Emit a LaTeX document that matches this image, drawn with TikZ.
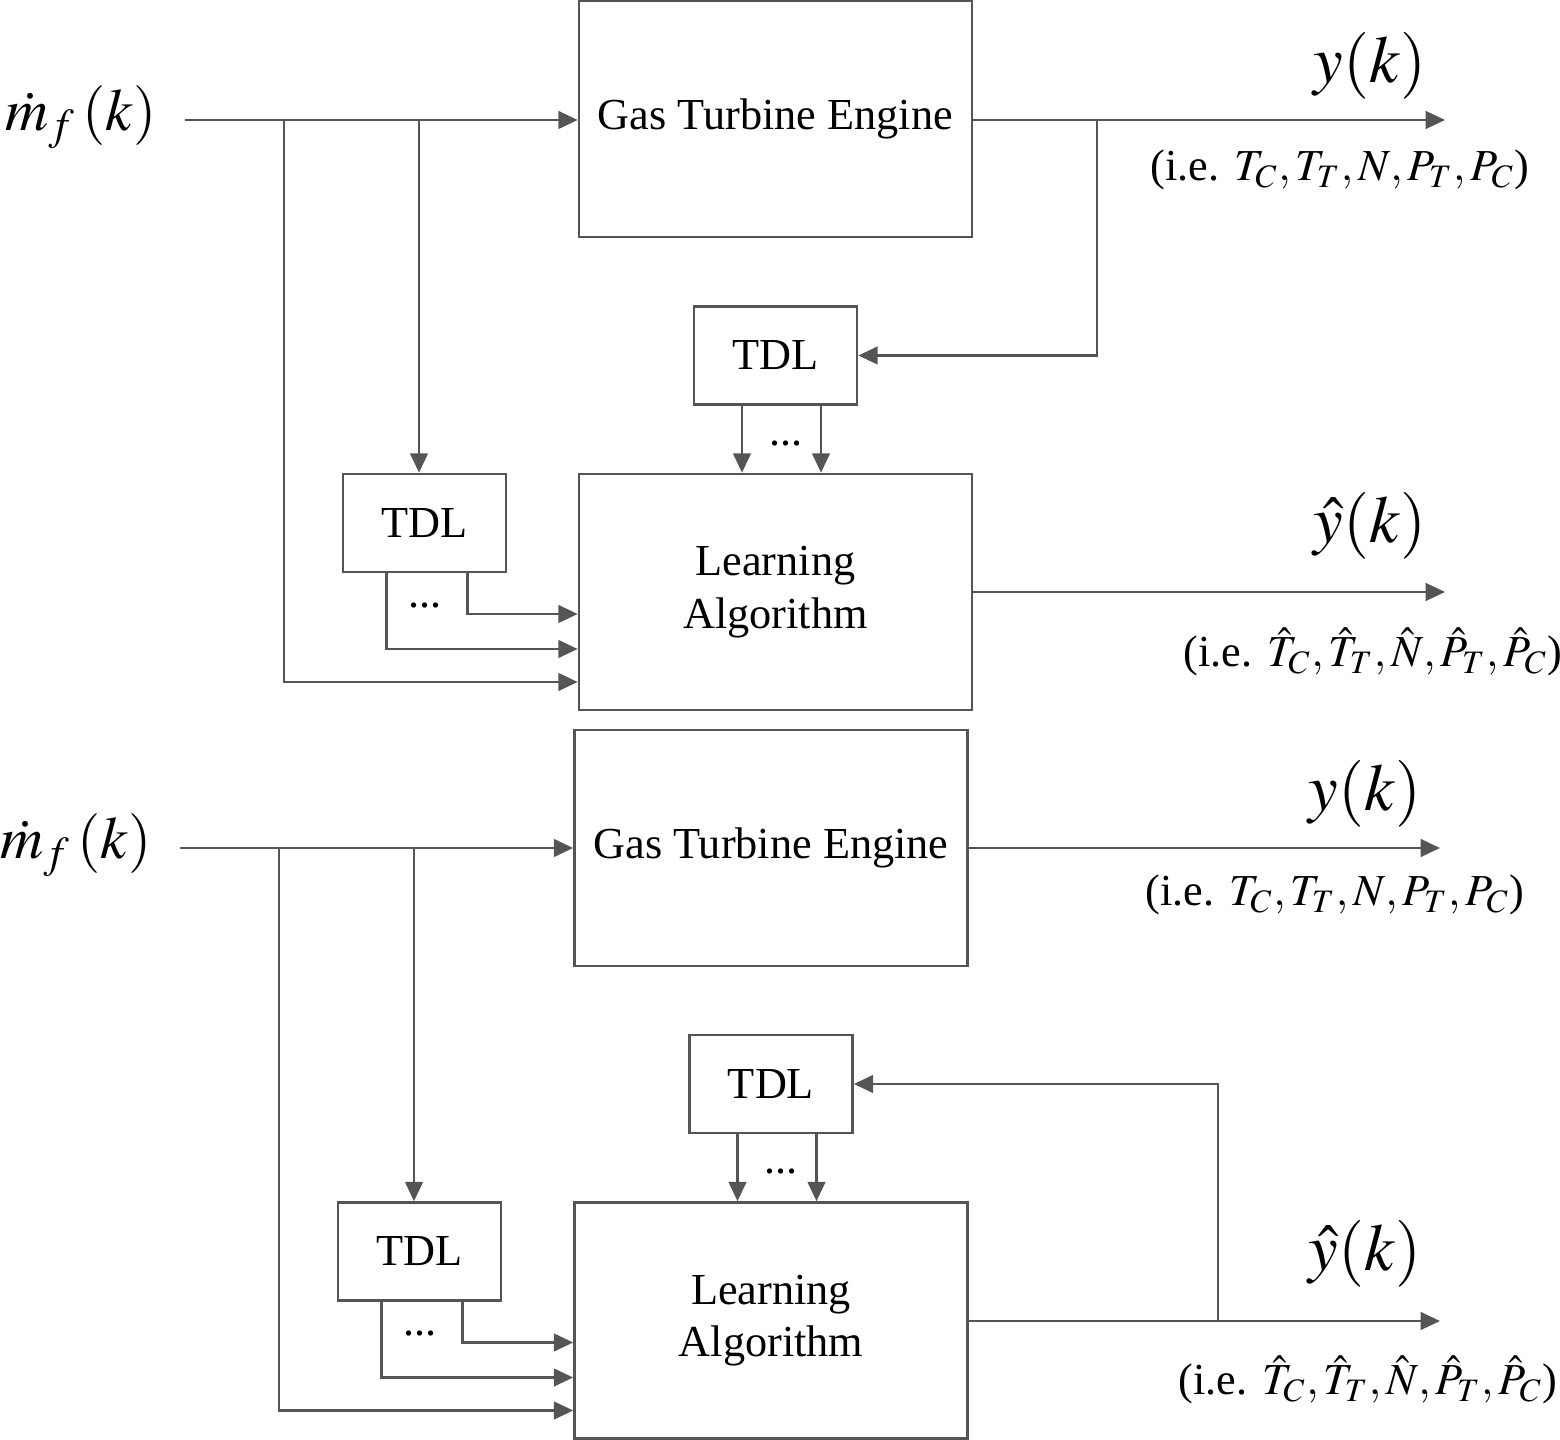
\documentclass[tikz,border=0pt]{standalone}
\usepackage{mathptmx}
\usepackage[no-math]{fontspec}
\setmainfont{Liberation Serif}
\usepackage{xcolor}
\usetikzlibrary{shapes,arrows.meta,positioning,calc}
\definecolor{linegray}{RGB}{85,85,85}

\begin{document}
\begin{tikzpicture}[x=0.1mm, y=-0.1mm,
    wire/.style={draw=linegray, line width=0.75pt},
    arr/.style={wire, -{Triangle[length=5.5pt, width=5pt]}},
    bigbox/.style={draw=linegray, line width=0.75pt, rectangle, minimum width=3.93cm, minimum height=2.36cm, inner sep=0pt, align=center, font=\fontsize{12.6}{15}\selectfont},
    tdlbox/.style={draw=linegray, line width=0.75pt, rectangle, minimum width=1.63cm, minimum height=0.98cm, inner sep=0pt, font=\fontsize{12.6}{15}\selectfont},
    inlabel/.style={font=\fontsize{17}{20}\selectfont},
    siglabel/.style={font=\fontsize{19}{22}\selectfont},
    sublabel/.style={font=\fontsize{12.6}{15}\selectfont},
    dotlabel/.style={font=\fontsize{12.6}{15}\selectfont}]
				\useasboundingbox (0,0) rectangle (1560,1440);
				
				% Upper panel: blocks
				\node[bigbox] (gte1) at (775.5,119) {Gas Turbine Engine};
				\node[bigbox] (la1) at (775.5,592) {Learning\\Algorithm};
				\node[tdlbox] (tdlA1) at (775.5,355.5) {TDL};
				\node[tdlbox] (tdlB1) at (424.5,523) {TDL};
				
				% Upper panel: input and branches
				\node[inlabel] (mf1) at (81,117) {$\dot{m}_{f}\,(k)$};
				\coordinate (in1) at (185,120);
				\coordinate (s1) at (284,120);
				\coordinate (s2) at (419,120);
				\coordinate (s3) at (1097,120);
				\coordinate (out1) at (1445,120);
				\coordinate (outh1) at (1445,592);
				\draw[arr] (in1) -- (in1 -| gte1.west);
				\draw[arr] (s2) -- (tdlB1.north -| s2);
				\draw[arr] (s1) |- ([yshift=-0.9cm]la1.west);
				\draw[arr] ([xshift=0.45cm]tdlB1.south west) |- ([yshift=-0.57cm]la1.west);
				\draw[arr] ([xshift=-0.4cm]tdlB1.south east) |- ([yshift=-0.22cm]la1.west);
				\node[dotlabel] (dotsB1) at (425,606) {...};
				
				% Upper panel: outputs and feedback
				\draw[arr] (gte1.east |- out1) -- (out1);
				\draw[arr] (s3) |- (tdlA1.east);
				\draw[arr] ([xshift=-0.335cm]tdlA1.south) -- ([xshift=-0.335cm]la1.north);
				\draw[arr] ([xshift=0.455cm]tdlA1.south) -- ([xshift=0.455cm]la1.north);
				\node[dotlabel] (dotsA1) at (786,444) {...};
				\draw[arr] (la1.east) -- (outh1);
				\node[siglabel] (y1) at (1370,66) {$y(k)$};
				\node[sublabel] (yl1) at (1340,170) {(i.e. $T_{C},T_{T},N,P_{T},P_{C}$)};
				\node[siglabel] (yh1) at (1370,526) {$\hat{y}(k)$};
				\node[sublabel] (yhl1) at (1373,652) {(i.e. $\hat{T}_{C},\hat{T}_{T},\hat{N},\hat{P}_{T},\hat{P}_{C}$)};
				
				% Lower panel: blocks
				\node[bigbox] (gte2) at (771,848) {Gas Turbine Engine};
				\node[bigbox] (la2) at (771,1320.5) {Learning\\Algorithm};
				\node[tdlbox] (tdlA2) at (771,1084) {TDL};
				\node[tdlbox] (tdlB2) at (419.5,1251.5) {TDL};
				
				% Lower panel: input and branches
				\node[inlabel] (mf2) at (76,845) {$\dot{m}_{f}\,(k)$};
				\coordinate (in2) at (180,848);
				\coordinate (s4) at (279,848);
				\coordinate (s5) at (414,848);
				\coordinate (s6) at (1218,1321);
				\coordinate (out2) at (1440,848);
				\coordinate (outh2) at (1440,1321);
				\draw[arr] (in2) -- (in2 -| gte2.west);
				\draw[arr] (s5) -- (tdlB2.north -| s5);
				\draw[arr] (s4) |- ([yshift=-0.9cm]la2.west);
				\draw[arr] ([xshift=0.45cm]tdlB2.south west) |- ([yshift=-0.57cm]la2.west);
				\draw[arr] ([xshift=-0.4cm]tdlB2.south east) |- ([yshift=-0.22cm]la2.west);
				\node[dotlabel] (dotsB2) at (420,1334) {...};
				
				% Lower panel: outputs and feedback
				\draw[arr] (gte2.east |- out2) -- (out2);
				\draw[arr] (la2.east |- outh2) -- (outh2);
				\draw[arr] (s6) |- (tdlA2.east);
				\draw[arr] ([xshift=-0.335cm]tdlA2.south) -- ([xshift=-0.335cm]la2.north);
				\draw[arr] ([xshift=0.455cm]tdlA2.south) -- ([xshift=0.455cm]la2.north);
				\node[dotlabel] (dotsA2) at (781,1172) {...};
				\node[siglabel] (y2) at (1365,794) {$y(k)$};
				\node[sublabel] (yl2) at (1335,895) {(i.e. $T_{C},T_{T},N,P_{T},P_{C}$)};
				\node[siglabel] (yh2) at (1365,1254) {$\hat{y}(k)$};
				\node[sublabel] (yhl2) at (1368,1380) {(i.e. $\hat{T}_{C},\hat{T}_{T},\hat{N},\hat{P}_{T},\hat{P}_{C}$)};
			\end{tikzpicture}
\end{document}
